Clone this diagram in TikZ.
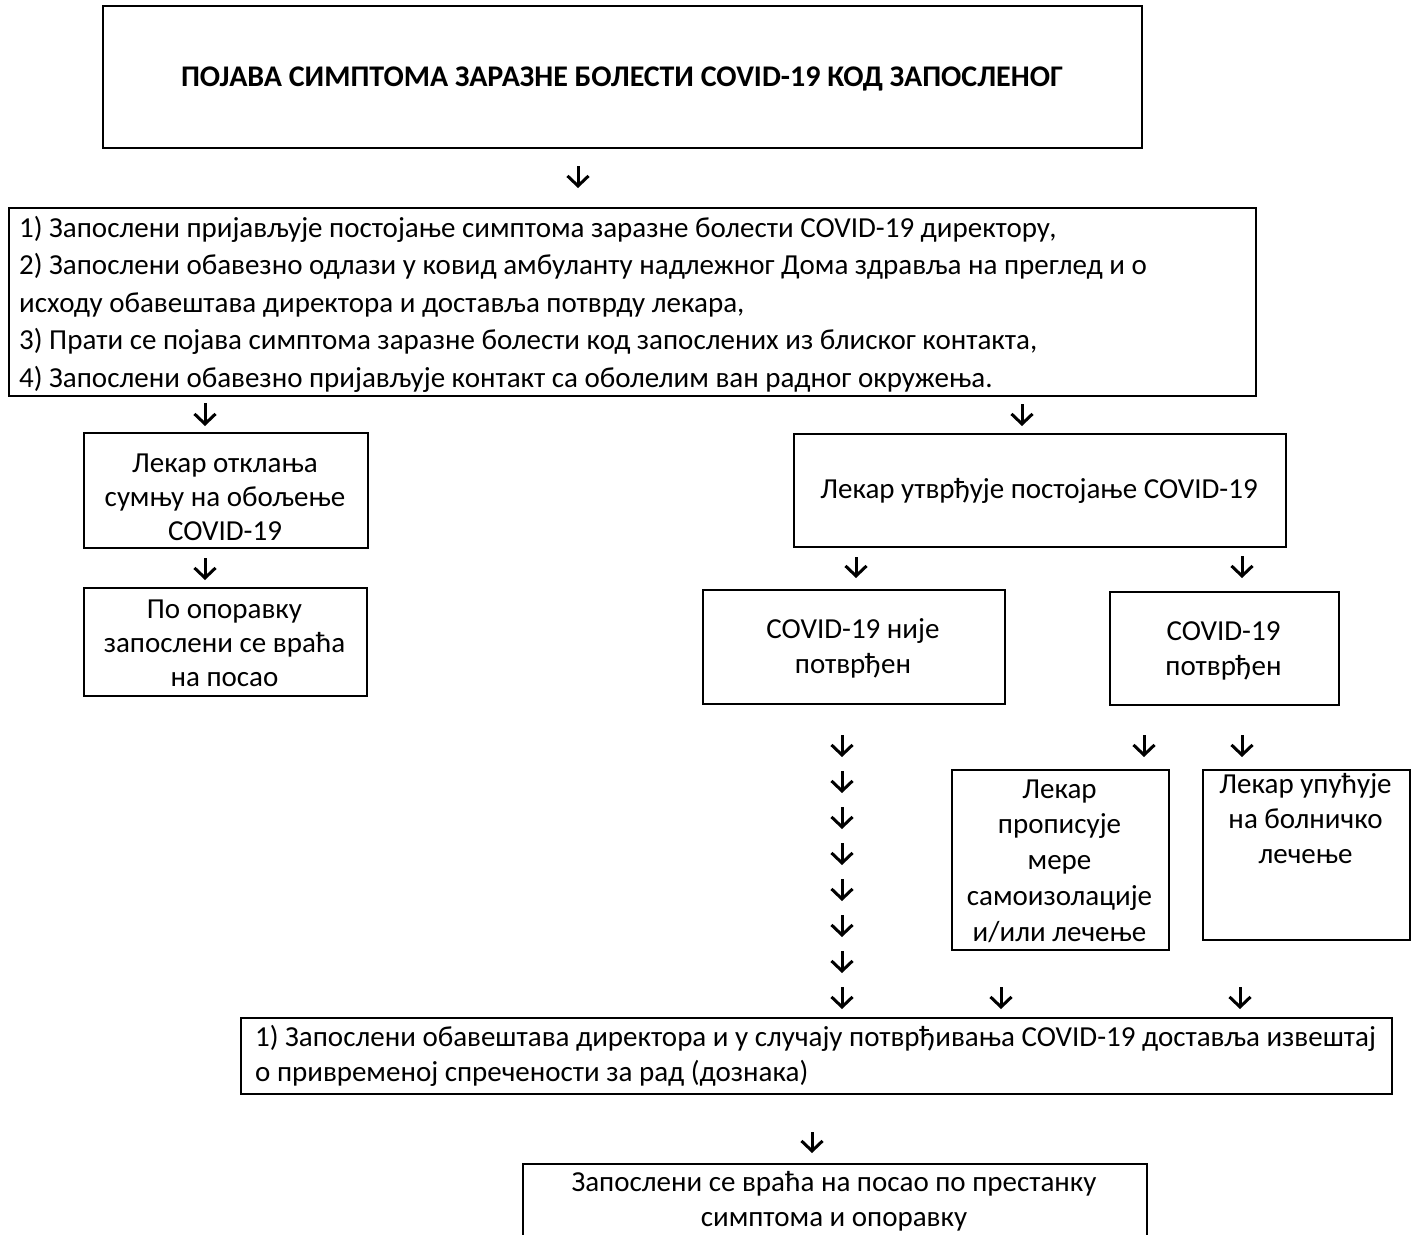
\documentclass[tikz,border=0pt]{standalone}
\usepackage{fontspec}
\setmainfont{Carlito}
\usetikzlibrary{arrows.meta}
\newcommand\st{\rule{0pt}{20pt}}
\begin{document}
\begin{tikzpicture}[x=1pt,y=-1pt,
  box/.style={draw, line width=2.4pt, inner sep=0pt, anchor=north west},
  txt/.style={inner sep=0pt, anchor=north, align=center, font=\fontsize{29}{35}\selectfont},
  ltxt/.style={inner sep=0pt, anchor=north west, align=left},
  arr/.style={line width=3pt, -{Straight Barb[length=10pt,width=21pt]}}]
\useasboundingbox (0,0) rectangle (1412,1234);
% boxes
\node[box, minimum width=1039, minimum height=142] (b1) at (102,5) {};
\node[box, minimum width=1247, minimum height=188] (b2) at (8,207) {};
\node[box, minimum width=284, minimum height=115] (b3) at (83,432) {};
\node[box, minimum width=283, minimum height=108] (b4) at (83,587) {};
\node[box, minimum width=492, minimum height=113] (b5) at (793,433) {};
\node[box, minimum width=302, minimum height=114] (b6) at (702,589) {};
\node[box, minimum width=229, minimum height=113] (b7) at (1109,591) {};
\node[box, minimum width=217, minimum height=180] (b8) at (951,769) {};
\node[box, minimum width=207, minimum height=170] (b9) at (1202,769) {};
\node[box, minimum width=1151, minimum height=76] (b10) at (240,1017) {};
\node[box, minimum width=624, minimum height=120] (b11) at (522,1163) {};
% texts
\node[inner sep=0pt, anchor=base, font=\fontsize{30}{36}\selectfont\bfseries] (t1) at (622,86)
  {ПОЈАВА СИМПТОМА ЗАРАЗНЕ БОЛЕСТИ COVID-19 КОД ЗАПОСЛЕНОГ};
\node[ltxt, font=\fontsize{29}{37.5}\selectfont] (t2) at (19,216)
  {\st 1) Запослени пријављује постојање симптома заразне болести COVID-19 директору,\\
   2) Запослени обавезно одлази у ковид амбуланту надлежног Дома здравља на преглед и о\\
   исходу обавештава директора и доставља потврду лекара,\\
   3) Прати се појава симптома заразне болести код запослених из блиског контакта,\\
   4) Запослени обавезно пријављује контакт са оболелим ван радног окружења.};
\node[txt, font=\fontsize{29}{34}\selectfont] (t3) at (225,452)
  {\st Лекар отклања\\сумњу на обољење\\COVID-19};
\node[txt, font=\fontsize{29}{34}\selectfont] (t4) at (224.5,598)
  {\st По опоравку\\запослени се враћа\\на посао};
\node[txt] (t5) at (1039,478) {\st Лекар утврђује постојање COVID-19};
\node[txt] (t6) at (853,618) {\st COVID-19 није\\потврђен};
\node[txt] (t7) at (1223.5,620) {\st COVID-19\\потврђен};
\node[txt, font=\fontsize{29}{35.75}\selectfont] (t8) at (1059.5,778)
  {\st Лекар\\прописује\\мере\\самоизолације\\и/или лечење};
\node[txt] (t9) at (1305.5,773) {\st Лекар упућује\\на болничко\\лечење};
\node[ltxt, font=\fontsize{29}{35}\selectfont] (t10) at (255,1025)
  {\st 1) Запослени обавештава директора и у случају потврђивања COVID-19 доставља извештај\\
   о привременој спречености за рад (дознака)};
\node[txt] (t11) at (834,1171) {\st Запослени се враћа на посао по престанку\\симптома и опоравку};
% arrows
\foreach \n/\x/\ya/\yb in {a1/578/166/188, a2/205/403/426, a3/1022/404/426, a4/205/558/580,
  a5/856/557/578, a6/1242/556/578, c1/842/735/757, c2/842/771/793, c3/842/807/829,
  c4/842/843/865, c5/842/879/901, c6/842/915/937, c7/842/951/973, c8/842/987/1009,
  a7/1144/735/757, a8/1242/735/757, a9/1001/987/1009, a10/1240/987/1009, a11/812/1132/1153}{
  \coordinate (\n s) at (\x,\ya);
  \coordinate (\n e) at (\x,\yb);
  \draw[arr] (\n s) -- (\n e);
}
\end{tikzpicture}
\end{document}
